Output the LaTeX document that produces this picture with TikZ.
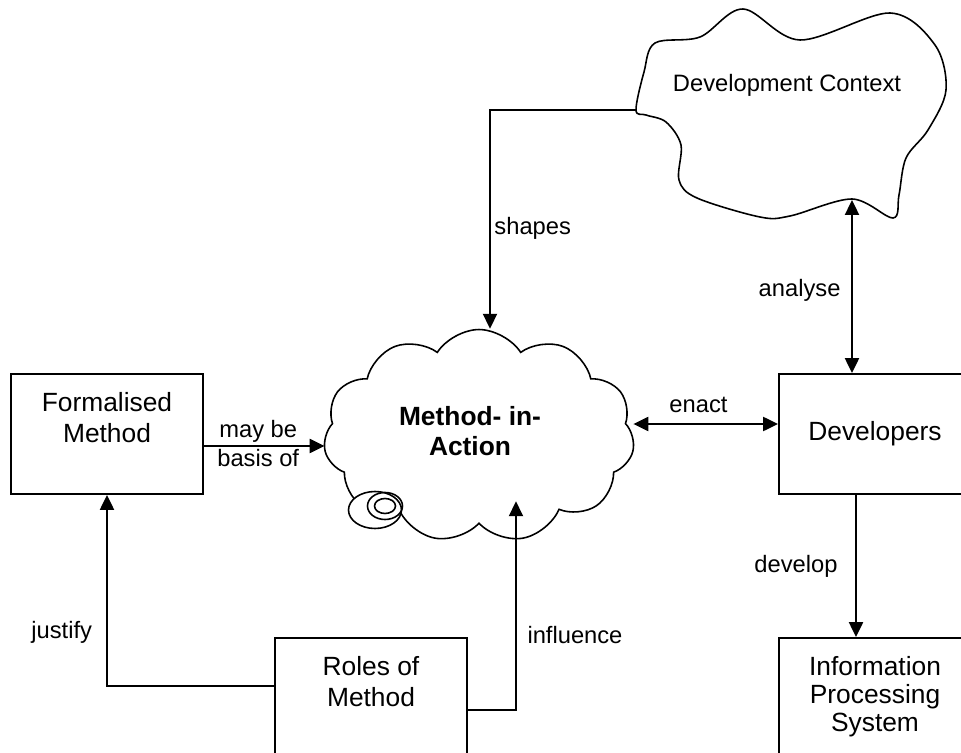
\documentclass[tikz,border=0pt]{standalone}
\usepackage{fontspec}
\setmainfont{Liberation Sans}
\usetikzlibrary{arrows.meta, shapes.symbols, shapes.geometric}

\begin{document}
\begin{tikzpicture}[x=0.02cm, y=-0.02cm, >={Triangle[length=8.5pt,width=8pt]}, line width=1.1pt]
  \tikzset{box/.style={draw, rectangle, minimum width=3.84cm, minimum height=2.4cm, inner sep=0pt, font=\fontsize{15}{17.5}\selectfont, align=center},
           tall/.style={box, minimum height=3cm},
           boxtext/.style={anchor=north, yshift=-7pt, font=\fontsize{15}{17.5}\selectfont, align=center},
           lbl/.style={font=\fontsize{13.5}{14.5}\selectfont, align=center, inner sep=2pt},
           bubble/.style={ellipse, draw, line width=0.9pt, inner sep=0pt}}
  \useasboundingbox (0,0) rectangle (961,753);

  % the cloud in the middle
  \node[cloud, draw, line width=0.9pt, cloud puffs=11, cloud puff arc=115, aspect=1.46,
        minimum width=6.22cm, minimum height=4.26cm, inner sep=0pt,
        label={[font=\fontsize{15}{17.5}\selectfont\bfseries, align=center, xshift=-0.18cm, yshift=0.1cm]center:Method- in-\\Action}] (mia) at (479,436) {};
  \node[bubble, fill=white, minimum width=1.06cm, minimum height=0.74cm] (bub) at (375,510) {};
  \node[bubble, minimum width=0.7cm, minimum height=0.54cm] (bubr) at (385,506) {};
  \node[bubble, minimum width=0.42cm, minimum height=0.3cm] (bubc) at (385,506) {};

  % development context
  \draw[line width=0.9pt] plot[smooth cycle, tension=0.55] coordinates {(636,110) (644,72) (655,43) (700,37)
        (743,9) (800,40) (890,13) (935,45) (946,90) (928,130) (906,158) (899,195) (893,218) (852,199)
        (790,216) (760,217) (697,198) (679,180) (681,145) (666,122) (646,115)};
  \node[lbl] (ctx) at (787,85) {Development Context};
  \coordinate (ctxw) at (636,110);
  \coordinate (ctxs) at (852,200);

  % boxes
  \node[box, label={[boxtext]north:Formalised\\Method}] (form) at (107,434) {};
  \node[box] (dev) at (875,434) {Developers};
  \node[tall, label={[boxtext]north:Roles of\\Method}] (roles) at (371,713) {};
  \node[tall, label={[boxtext, font=\fontsize{15}{16}\selectfont]north:Information\\Processing\\System}] (ips) at (875,713) {};

  % connectors
  \draw[->] (ctxw) -| ([xshift=0.22cm]mia.north) node[lbl, pos=0.77, right] {shapes};
  \coordinate (basis) at ([yshift=-0.24cm]form.east);
  \draw[->] (basis) -- (basis -| mia.west) node[lbl, pos=0.45, above, inner sep=1.5pt] {may be} node[lbl, pos=0.45, below, inner sep=1.5pt] {basis of};
  \draw[<->] (ctxs) -- (ctxs |- dev.north) node[lbl, pos=0.52, left, xshift=-4pt] {analyse};
  \coordinate (act) at ([yshift=0.2cm]dev.west);
  \draw[<->] (act -| mia.east) -- (act) node[lbl, pos=0.45, above, yshift=4pt] {enact};
  \draw[->] ([xshift=-0.38cm]dev.south) -- ([xshift=-0.38cm]ips.north) node[lbl, midway, left, xshift=-8pt] {develop};
  \draw[->] ([yshift=0.54cm]roles.west) -| (form.south) node[lbl, pos=0.64, left, xshift=-6pt] {justify};
  \draw[->] ([yshift=0.06cm]roles.east) -| ([xshift=0.74cm, yshift=0.46cm]mia.south) node[lbl, pos=0.68, right, xshift=4pt] {influence};
\end{tikzpicture}
\end{document}
